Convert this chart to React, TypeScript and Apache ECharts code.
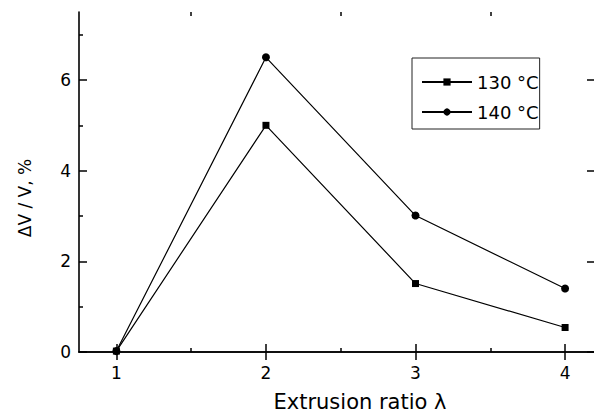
import React, { useEffect, useRef } from "react";
import * as echarts from "echarts";

const ratios = [1, 2, 3, 4];
const series130 = [0.02, 5.0, 1.51, 0.54];
const series140 = [0.02, 6.5, 3.01, 1.4];
const seriesNames = ["130 °C", "140 °C"];
const xMajorTicks = [1, 2, 3, 4];
const xMinorTicks = [1.5, 2.5, 3.5];
const yMajorTicks = [0, 2, 4, 6];
const yMinorTicks = [1, 3, 5, 7];

const FONT = "DejaVu Sans";

export default function App() {
  const ref = useRef<HTMLDivElement>(null);
  useEffect(() => {
    if (!ref.current) return;
    const chart = echarts.init(ref.current, null, { renderer: "svg" });
    const axisLine = { show: true, lineStyle: { color: "#000", width: 1.6 } };
    const xBase = { type: "value", min: 0.75, max: 4.2, splitLine: { show: false } };
    const yBase = { type: "value", min: 0, max: 7.5, splitLine: { show: false } };
    chart.setOption({
      animation: false,
      backgroundColor: "#fff",
      grid: { left: 79, top: 12, width: 516, height: 340, containLabel: false, outerBoundsMode: "none" },
      legend: {
        left: 412,
        top: 58,
        orient: "vertical",
        data: seriesNames,
        itemWidth: 50,
        itemHeight: 9,
        itemGap: 12,
        padding: [15, 1, 8, 9],
        borderColor: "#222",
        borderWidth: 1,
        textStyle: { fontFamily: FONT, fontSize: 18, color: "#000" },
      },
      xAxis: [
        {
          ...xBase,
          position: "bottom",
          axisLine,
          axisTick: { show: true, inside: true, length: 8, customValues: xMajorTicks, lineStyle: { color: "#000", width: 1.5 } },
          axisLabel: { show: true, customValues: xMajorTicks, margin: 12, fontFamily: FONT, fontSize: 17, color: "#000" },
          name: "Extrusion ratio λ",
          nameLocation: "middle",
          nameGap: 39,
          nameTextStyle: { fontFamily: FONT, fontSize: 21, lineHeight: 21, color: "#000", padding: [0, 0, 0, 46] },
        },
        {
          ...xBase,
          position: "bottom",
          axisLine: { show: false },
          axisTick: { show: true, inside: true, length: 4, customValues: xMinorTicks, lineStyle: { color: "#000", width: 1.5 } },
          axisLabel: { show: false },
        },
        {
          ...xBase,
          position: "top",
          axisLine,
          axisTick: { show: true, inside: true, length: 8, customValues: xMajorTicks, lineStyle: { color: "#000", width: 1.5 } },
          axisLabel: { show: false },
        },
        {
          ...xBase,
          position: "top",
          axisLine: { show: false },
          axisTick: { show: true, inside: true, length: 4, customValues: xMinorTicks, lineStyle: { color: "#000", width: 1.5 } },
          axisLabel: { show: false },
        },
      ],
      yAxis: [
        {
          ...yBase,
          position: "left",
          axisLine,
          axisTick: { show: true, inside: true, length: 8, customValues: yMajorTicks, lineStyle: { color: "#000", width: 1.5 } },
          axisLabel: { show: true, customValues: yMajorTicks, margin: 8, fontFamily: FONT, fontSize: 17, color: "#000" },
          name: "ΔV / V, %",
          nameLocation: "middle",
          nameGap: 46,
          nameRotate: 90,
          nameTextStyle: { fontFamily: FONT, fontSize: 17, color: "#000", padding: [0, 32, 0, 0] },
        },
        {
          ...yBase,
          position: "left",
          axisLine: { show: false },
          axisTick: { show: true, inside: true, length: 4, customValues: yMinorTicks, lineStyle: { color: "#000", width: 1.5 } },
          axisLabel: { show: false },
        },
        {
          ...yBase,
          position: "right",
          axisLine,
          axisTick: { show: true, inside: true, length: 8, customValues: yMajorTicks, lineStyle: { color: "#000", width: 1.5 } },
          axisLabel: { show: false },
        },
      ],
      series: [
        {
          name: seriesNames[0],
          type: "line",
          data: ratios.map((r, i) => [r, series130[i]]),
          symbol: "rect",
          symbolSize: 7,
          lineStyle: { color: "#000", width: 1.2 },
          itemStyle: { color: "#000" },
          z: 3,
        },
        {
          name: seriesNames[1],
          type: "line",
          data: ratios.map((r, i) => [r, series140[i]]),
          symbol: "circle",
          symbolSize: 8,
          lineStyle: { color: "#000", width: 1.2 },
          itemStyle: { color: "#000" },
          z: 2,
        },
      ],
    });
    return () => chart.dispose();
  }, []);
  return <div ref={ref} style={{ width: 594, height: 414, position: "absolute", left: 0, top: 0 }} />;
}
